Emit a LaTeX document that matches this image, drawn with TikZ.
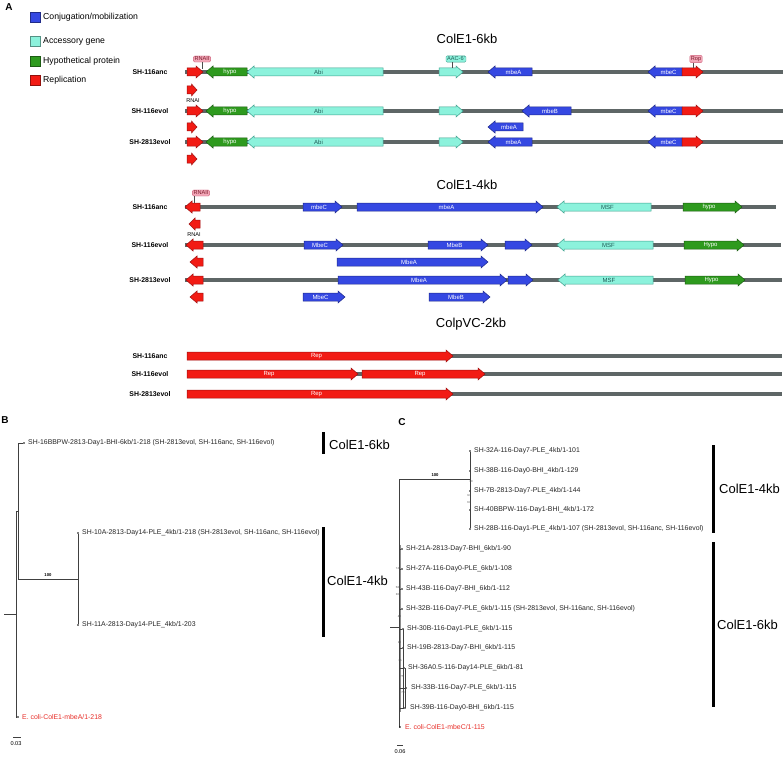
\documentclass[tikz,border=0pt]{standalone}
\usepackage{fontspec}
\setmainfont{Liberation Sans}
\definecolor{conjblue}{HTML}{3548E2}
\definecolor{conjdark}{HTML}{1F2A8C}
\definecolor{accaqua}{HTML}{8CF2DC}
\definecolor{accdark}{HTML}{3FA08E}
\definecolor{acctext}{HTML}{1E5A55}
\definecolor{hypgreen}{HTML}{2E9A1E}
\definecolor{hypdark}{HTML}{1C5E12}
\definecolor{repred}{HTML}{F21B14}
\definecolor{repdark}{HTML}{A01010}
\definecolor{bbgray}{HTML}{5E6666}
\definecolor{pinkfill}{HTML}{F2A7B8}
\definecolor{pinkdraw}{HTML}{D0607A}
\definecolor{pinktext}{HTML}{7A1A2A}
\definecolor{ecored}{HTML}{E8302A}
\newcommand\featR[7]{%
  \pgfmathsetmacro\hx{max(#2,#3-min(7,0.55*(#3-#2)))}%
  \path[#5] (#2,#4-4) -- (\hx,#4-4) -- (\hx,#4-6) -- (#3,#4) -- (\hx,#4+6) -- (\hx,#4+4) -- (#2,#4+4) -- cycle;
  \pgfmathsetmacro\cx{(#2+\hx)/2}%
  \node[#6] (#1) at (\cx,#4) {#7};
}
\newcommand\featL[7]{%
  \pgfmathsetmacro\hx{min(#3,#2+min(7,0.55*(#3-#2)))}%
  \path[#5] (#3,#4-4) -- (\hx,#4-4) -- (\hx,#4-6) -- (#2,#4) -- (\hx,#4+6) -- (\hx,#4+4) -- (#3,#4+4) -- cycle;
  \pgfmathsetmacro\cx{(#3+\hx)/2}%
  \node[#6] (#1) at (\cx,#4) {#7};
}
\tikzset{
 bb/.style={line width=3.3pt, draw=bbgray},
 conj/.style={fill=conjblue, draw=conjdark, line width=0.5pt},
 acc/.style={fill=accaqua, draw=accdark, line width=0.5pt},
 hyp/.style={fill=hypgreen, draw=hypdark, line width=0.5pt},
 rep/.style={fill=repred, draw=repdark, line width=0.5pt},
 ftxt/.style={font=\fontsize{6}{6}\selectfont, text=white, inner sep=0pt},
 ftxtd/.style={font=\fontsize{6}{6}\selectfont, text=acctext, inner sep=0pt},
 rowlbl/.style={font=\bfseries\fontsize{6.9}{8}\selectfont, inner sep=0pt},
 ttl/.style={font=\fontsize{13}{15}\selectfont, inner sep=0pt},
 panel/.style={font=\bfseries\fontsize{10}{12}\selectfont, inner sep=0pt},
 lgsq/.style={draw=#1!60!black, fill=#1, minimum size=10pt, inner sep=0pt},
 lgt/.style={font=\fontsize{8.7}{10}\selectfont, anchor=west, inner sep=0pt},
 pinkl/.style={draw=pinkdraw, fill=pinkfill, rounded corners=1.2pt, font=\fontsize{5.6}{6}\selectfont, text=pinktext, inner sep=1.1pt},
 accl/.style={draw=accdark, fill=accaqua, rounded corners=1.2pt, font=\fontsize{5.6}{6}\selectfont, text=acctext, inner sep=1.1pt},
 ll/.style={draw=black!70, line width=0.4pt},
 rnaitxt/.style={font=\fontsize{5.6}{6}\selectfont, inner sep=0pt},
 tree/.style={draw=black!75, line width=0.6pt},
 dot/.style={circle, fill=black, inner sep=0pt, minimum size=1.8pt},
 leaf/.style={font=\fontsize{6.9}{8}\selectfont, anchor=west, inner sep=0pt, text=black!85},
 eco/.style={leaf, text=ecored},
 boot/.style={font=\bfseries\fontsize{4.2}{5}\selectfont, inner sep=0pt},
 tinyb/.style={font=\fontsize{2.8}{3}\selectfont, inner sep=0pt, text=black!70},
 clade/.style={draw=black, line width=3pt},
 cladet/.style={font=\fontsize{13}{15}\selectfont, anchor=west, inner sep=0pt},
 scl/.style={font=\fontsize{5.6}{6}\selectfont, inner sep=0pt},
}
\begin{document}
\begin{tikzpicture}[x=1pt,y=-1pt]
\useasboundingbox (0,0) rectangle (784,757);
\fill[white] (0,0) rectangle (784,757);
% ---------- Panel A ----------
\node[panel] (labA) at (9,7) {A};
\node[lgsq=conjblue] (lg1) at (35,17) {};
\node[lgt] (lg1t) at (43,17) {Conjugation/mobilization};
\node[lgsq=accaqua] (lg2) at (35,41) {};
\node[lgt] (lg2t) at (43,41) {Accessory gene};
\node[lgsq=hypgreen] (lg3) at (35,61) {};
\node[lgt] (lg3t) at (43,61) {Hypothetical protein};
\node[lgsq=repred] (lg4) at (35,80) {};
\node[lgt] (lg4t) at (43,80) {Replication};
% ColE1-6kb
\node[ttl] (t6) at (467,39) {ColE1-6kb};
\node[rowlbl] (l6a) at (150,72) {SH-116anc};
\node[rowlbl] (l6b) at (150,111) {SH-116evol};
\node[rowlbl] (l6c) at (150,142) {SH-2813evol};
\coordinate (a1s) at (185,72); \coordinate (a1e) at (783,72);
\coordinate (a2s) at (185,111); \coordinate (a2e) at (783,111);
\coordinate (a3s) at (185,142); \coordinate (a3e) at (783,142);
\draw[bb] (a1s) -- (a1e);
\draw[bb] (a2s) -- (a2e);
\draw[bb] (a3s) -- (a3e);
% row 1
\featR{r6a1}{187}{203}{72}{rep}{ftxt}{}
\featL{h6a1}{206}{247}{72}{hyp}{ftxt}{hypo}
\featL{abi6a1}{247}{383}{72}{acc}{ftxtd}{Abi}
\featR{aac6a1}{439}{463}{72}{acc}{ftxtd}{}
\featL{mbeA6a1}{488}{532}{72}{conj}{ftxt}{mbeA}
\featL{mbeC6a1}{648}{682}{72}{conj}{ftxt}{mbeC}
\featR{rop6a1}{682}{703}{72}{rep}{ftxt}{}
\featR{r6a2}{187}{197}{90}{rep}{ftxt}{}
\node[rnaitxt] (rnai6) at (193,101) {RNAI};
% row 2
\featR{r6b1}{187}{203}{111}{rep}{ftxt}{}
\featL{h6b1}{206}{247}{111}{hyp}{ftxt}{hypo}
\featL{abi6b1}{247}{383}{111}{acc}{ftxtd}{Abi}
\featR{aac6b1}{439}{463}{111}{acc}{ftxtd}{}
\featL{mbeB6b1}{522}{571}{111}{conj}{ftxt}{mbeB}
\featL{mbeC6b1}{648}{682}{111}{conj}{ftxt}{mbeC}
\featR{rop6b1}{682}{703}{111}{rep}{ftxt}{}
\featR{r6b2}{187}{197}{127}{rep}{ftxt}{}
\featL{mbeA6b2}{488}{523}{127}{conj}{ftxt}{mbeA}
% row 3
\featR{r6c1}{187}{203}{142}{rep}{ftxt}{}
\featL{h6c1}{206}{247}{142}{hyp}{ftxt}{hypo}
\featL{abi6c1}{247}{383}{142}{acc}{ftxtd}{Abi}
\featR{aac6c1}{439}{463}{142}{acc}{ftxtd}{}
\featL{mbeA6c1}{488}{532}{142}{conj}{ftxt}{mbeA}
\featL{mbeC6c1}{648}{682}{142}{conj}{ftxt}{mbeC}
\featR{rop6c1}{682}{703}{142}{rep}{ftxt}{}
\featR{r6c2}{187}{197}{159}{rep}{ftxt}{}
% labels 6kb
\node[pinkl] (rnaii6) at (202,59) {RNAII};
\coordinate (rnaii6p) at (202,69);
\draw[ll] (rnaii6.south) -- (rnaii6p);
\node[accl] (aacl) at (456,59) {AAC-6'};
\coordinate (aaclp) at (452,68);
\draw[ll] (aacl.south -| aaclp) -- (aaclp);
\node[pinkl] (ropl) at (696,59) {Rop};
\coordinate (roplp) at (693,68);
\draw[ll] (ropl.south -| roplp) -- (roplp);
% ColE1-4kb
\node[ttl] (t4) at (467,185) {ColE1-4kb};
\node[rowlbl] (l4a) at (150,207) {SH-116anc};
\node[rowlbl] (l4b) at (150,245) {SH-116evol};
\node[rowlbl] (l4c) at (150,280) {SH-2813evol};
\coordinate (c1s) at (185,207); \coordinate (c1e) at (776,207);
\coordinate (c2s) at (185,245); \coordinate (c2e) at (781,245);
\coordinate (c3s) at (185,280); \coordinate (c3e) at (782,280);
\draw[bb] (c1s) -- (c1e);
\draw[bb] (c2s) -- (c2e);
\draw[bb] (c3s) -- (c3e);
% row 1
\featL{r4a1}{185}{200}{207}{rep}{ftxt}{}
\featR{mbeC4a1}{303}{342}{207}{conj}{ftxt}{mbeC}
\featR{mbeA4a1}{357}{543}{207}{conj}{ftxt}{mbeA}
\featL{msf4a1}{557}{651}{207}{acc}{ftxtd}{MSF}
\featR{hyp4a1}{683}{742}{207}{hyp}{ftxt}{hypo}
\featL{r4a2}{189}{200}{224}{rep}{ftxt}{}
\node[rnaitxt] (rnai4) at (194,235) {RNAI};
% row 2
\featL{r4b1}{186}{203}{245}{rep}{ftxt}{}
\featR{mbeC4b1}{304}{343}{245}{conj}{ftxt}{MbeC}
\featR{mbeB4b1}{428}{488}{245}{conj}{ftxt}{MbeB}
\featR{x4b1}{505}{532}{245}{conj}{ftxt}{}
\featL{msf4b1}{557}{653}{245}{acc}{ftxtd}{MSF}
\featR{hyp4b1}{684}{744}{245}{hyp}{ftxt}{Hypo}
\featL{r4b2}{190}{203}{262}{rep}{ftxt}{}
\featR{mbeA4b2}{337}{488}{262}{conj}{ftxt}{MbeA}
% row 3
\featL{r4c1}{186}{203}{280}{rep}{ftxt}{}
\featR{mbeA4c1}{338}{507}{280}{conj}{ftxt}{MbeA}
\featR{x4c1}{508}{533}{280}{conj}{ftxt}{}
\featL{msf4c1}{558}{653}{280}{acc}{ftxtd}{MSF}
\featR{hyp4c1}{685}{745}{280}{hyp}{ftxt}{Hypo}
\featL{r4c2}{190}{203}{297}{rep}{ftxt}{}
\featR{mbeC4c2}{303}{345}{297}{conj}{ftxt}{MbeC}
\featR{mbeB4c2}{429}{490}{297}{conj}{ftxt}{MbeB}
\node[pinkl] (rnaii4) at (201,193) {RNAII};
\coordinate (rnaii4p) at (194,203);
\draw[ll] (rnaii4.south -| rnaii4p) -- (rnaii4p);
% ColpVC-2kb
\node[ttl] (t2) at (471,324) {ColpVC-2kb};
\node[rowlbl] (l2a) at (150,356) {SH-116anc};
\node[rowlbl] (l2b) at (150,374) {SH-116evol};
\node[rowlbl] (l2c) at (150,394) {SH-2813evol};
\coordinate (p1s) at (187,356); \coordinate (p1e) at (782,356);
\coordinate (p2s) at (187,374); \coordinate (p2e) at (782,374);
\coordinate (p3s) at (187,394); \coordinate (p3e) at (782,394);
\draw[bb] (p1s) -- (p1e);
\draw[bb] (p2s) -- (p2e);
\draw[bb] (p3s) -- (p3e);
\featR{rep2a}{187}{453}{356}{rep}{ftxt}{Rep}
\featR{rep2b1}{187}{358}{374}{rep}{ftxt}{Rep}
\featR{rep2b2}{362}{485}{374}{rep}{ftxt}{Rep}
\featR{rep2c}{187}{453}{394}{rep}{ftxt}{Rep}
% ---------- Panel B ----------
\node[panel] (labB) at (5,420) {B};
\node[dot] (b1) at (24,443) {};
\node[leaf] (b1t) at (28,443) {SH-16BBPW-2813-Day1-BHI-6kb/1-218 (SH-2813evol, SH-116anc, SH-116evol)};
\node[dot] (b2) at (78,533) {};
\node[leaf] (b2t) at (82,533) {SH-10A-2813-Day14-PLE\_4kb/1-218 (SH-2813evol, SH-116anc, SH-116evol)};
\node[dot] (b3) at (78,625) {};
\node[leaf] (b3t) at (82,625) {SH-11A-2813-Day14-PLE\_4kb/1-203};
\node[dot] (b4) at (18,717) {};
\node[eco] (b4t) at (22,717) {E. coli-ColE1-mbeA/1-218};
\coordinate (bj1) at (18,443);
\coordinate (bj2) at (18,579);
\coordinate (bn1) at (78,579);
\coordinate (bn2) at (18,511);
\coordinate (br1) at (16,511);
\coordinate (br2) at (16,717);
\coordinate (brt) at (16,614);
\coordinate (bst) at (4,614);
\draw[tree] (b1) -- (bj1) -- (bj2) -- (bn1);
\draw[tree] (b2) -- (b3);
\draw[tree] (bn2) -- (br1) -- (br2) -- (b4);
\draw[tree] (bst) -- (brt);
\node[boot] (bb100) at (48,575) {100};
\coordinate (bs1) at (13,737); \coordinate (bs2) at (21,737);
\draw[tree] (bs1) -- (bs2);
\node[scl] (bsc) at (16,744) {0.03};
\coordinate (bk1a) at (323.5,432); \coordinate (bk1b) at (323.5,454);
\coordinate (bk2a) at (323.5,527); \coordinate (bk2b) at (323.5,637);
\draw[clade] (bk1a) -- (bk1b);
\draw[clade] (bk2a) -- (bk2b);
\node[cladet] (bk1t) at (329,445) {ColE1-6kb};
\node[cladet] (bk2t) at (327,581) {ColE1-4kb};
% ---------- Panel C ----------
\node[panel] (labC) at (402,422) {C};
\node[dot] (c1) at (470,451) {};
\node[leaf] (c1t) at (474,451) {SH-32A-116-Day7-PLE\_4kb/1-101};
\node[dot] (c2) at (470,471) {};
\node[leaf] (c2t) at (474,471) {SH-38B-116-Day0-BHI\_4kb/1-129};
\node[dot] (c3) at (470,491) {};
\node[leaf] (c3t) at (474,491) {SH-7B-2813-Day7-PLE\_4kb/1-144};
\node[dot] (c4) at (470,510) {};
\node[leaf] (c4t) at (474,510) {SH-40BBPW-116-Day1-BHI\_4kb/1-172};
\node[dot] (c5) at (470,529) {};
\node[leaf] (c5t) at (474,529) {SH-28B-116-Day1-PLE\_4kb/1-107 (SH-2813evol, SH-116anc, SH-116evol)};
\coordinate (cn1) at (470,479);
\coordinate (cj) at (399,479);
\coordinate (cb) at (399,727);
\draw[tree] (c1) -- (c5);
\draw[tree] (cn1) -- (cj) -- (cb);
\node[boot] (cb100) at (435,475) {100};
\node[tinyb] (cx1) at (471,482) {10};
\node[tinyb] (cx2) at (469,496) {97};
\node[tinyb] (cx3) at (469,503) {63};
\node[dot] (c6) at (402,549) {};
\node[leaf] (c6t) at (406,549) {SH-21A-2813-Day7-BHI\_6kb/1-90};
\node[dot] (c7) at (402,569) {};
\node[leaf] (c7t) at (406,569) {SH-27A-116-Day0-PLE\_6kb/1-108};
\node[dot] (c8) at (402,589) {};
\node[leaf] (c8t) at (406,589) {SH-43B-116-Day7-BHI\_6kb/1-112};
\node[dot] (c9) at (402,609) {};
\node[leaf] (c9t) at (406,609) {SH-32B-116-Day7-PLE\_6kb/1-115 (SH-2813evol, SH-116anc, SH-116evol)};
\node[dot] (c10) at (403,629) {};
\node[leaf] (c10t) at (407,629) {SH-30B-116-Day1-PLE\_6kb/1-115};
\node[dot] (c11) at (403,648) {};
\node[leaf] (c11t) at (407,648) {SH-19B-2813-Day7-BHI\_6kb/1-115};
\node[dot] (c12) at (404,668) {};
\node[leaf] (c12t) at (408,668) {SH-36A0.5-116-Day14-PLE\_6kb/1-81};
\node[dot] (c13) at (406,688) {};
\node[leaf] (c13t) at (411,688) {SH-33B-116-Day7-PLE\_6kb/1-115};
\node[dot] (c14) at (405,708) {};
\node[leaf] (c14t) at (410,708) {SH-39B-116-Day0-BHI\_6kb/1-115};
\node[dot] (c15) at (400,727) {};
\node[eco] (c15t) at (405,727) {E. coli-ColE1-mbeC/1-115};
\coordinate (cg1) at (400.3,545); \coordinate (cg2) at (400.3,712);
\draw[draw=black!45, line width=1.6pt] (cg1) -- (cg2);
\coordinate (cv1) at (403,629); \coordinate (cv2) at (403,708);
\coordinate (cw1) at (405,668); \coordinate (cw2) at (405,708);
\draw[tree, line width=0.4pt] (cv1) -- (cv2);
\draw[tree, line width=0.4pt] (cw1) -- (cw2);
\foreach \n in {c6,c7,c8,c9,c10,c11,c12,c13,c14,c15} {\draw[tree, line width=0.4pt] (\n -| cj) -- (\n);}
\coordinate (crt) at (399,627); \coordinate (cst) at (390,627);
\draw[tree] (cst) -- (crt);
\node[tinyb] (cy1) at (397.5,569) {74};
\node[tinyb] (cy2) at (397.5,588) {58};
\node[tinyb] (cy3) at (397.5,595) {30};
\node[tinyb] (cy4) at (399.5,617) {40};
\node[tinyb] (cy5) at (399.5,643) {10};
\node[tinyb] (cy6) at (400,661) {75};
\node[tinyb] (cy7) at (402,677) {75};
\node[tinyb] (cy8) at (403,693) {78};
\coordinate (cs1) at (397,745); \coordinate (cs2) at (403,745);
\draw[tree] (cs1) -- (cs2);
\node[scl] (csc) at (400,752) {0.06};
\coordinate (ck1a) at (713.5,445); \coordinate (ck1b) at (713.5,533);
\coordinate (ck2a) at (713.5,542); \coordinate (ck2b) at (713.5,707);
\draw[clade] (ck1a) -- (ck1b);
\draw[clade] (ck2a) -- (ck2b);
\node[cladet] (ck1t) at (719,489) {ColE1-4kb};
\node[cladet] (ck2t) at (717,625) {ColE1-6kb};
\end{tikzpicture}
\end{document}
